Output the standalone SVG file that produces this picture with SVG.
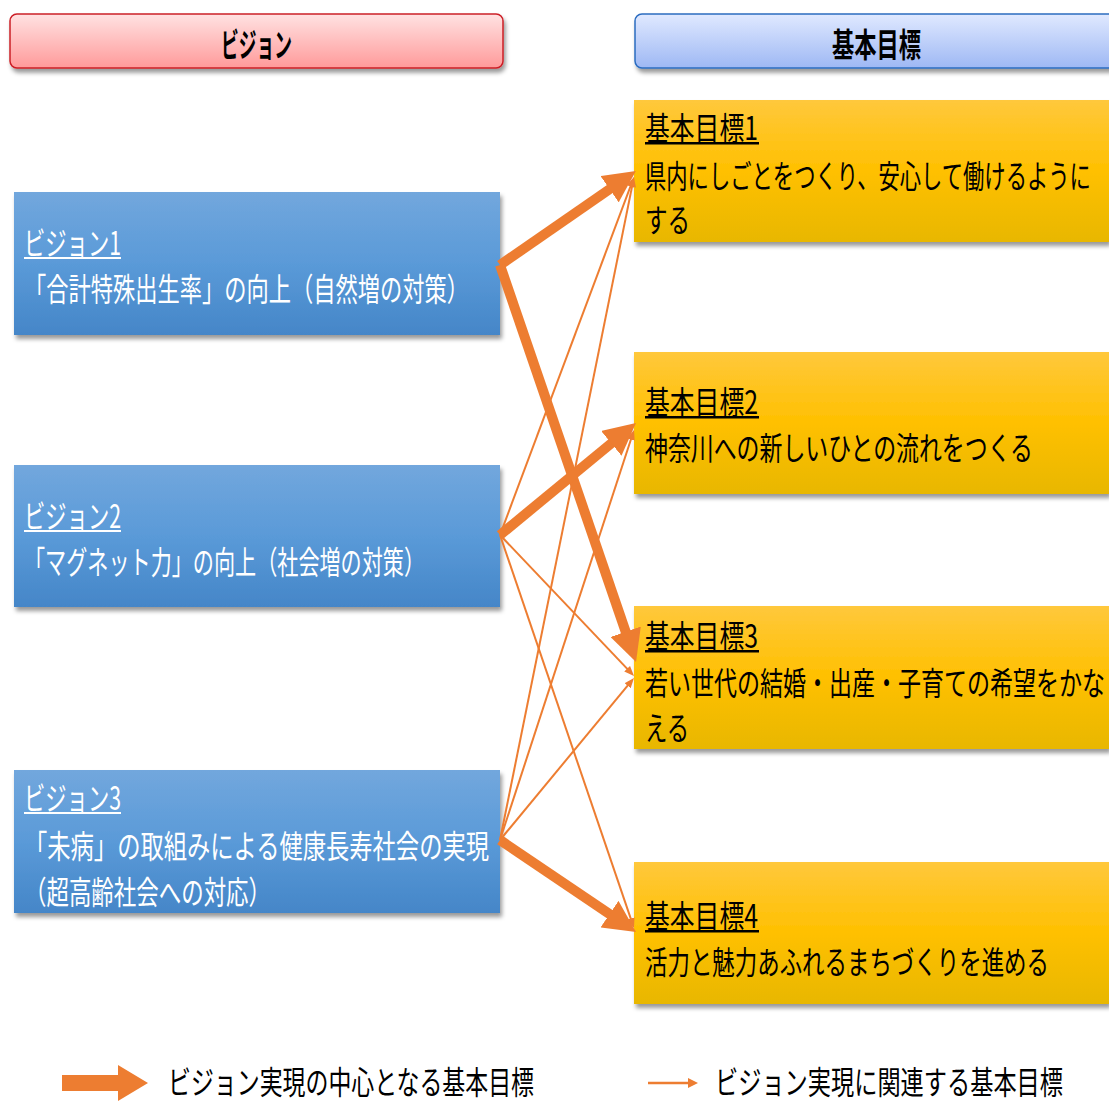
<svg xmlns="http://www.w3.org/2000/svg" width="1109" height="1102" viewBox="0 0 1109 1102">
<style>
.t{font-family:"Noto Sans CJK JP","Noto Sans",sans-serif;font-size:32px}
.h{font-family:"Noto Sans CJK JP","Noto Sans",sans-serif;font-size:33px;font-weight:bold;fill:#000}
.w{fill:#fff}
.k{fill:#000}
.vis{fill:url(#gVis)}
.goal{fill:url(#gGoal)}
.thick{stroke:#ED7D31;stroke-width:10;fill:none;marker-end:url(#mThick)}
.thin{stroke:#ED7D31;stroke-width:2;fill:none;marker-end:url(#mThin)}
</style>
<defs>
<linearGradient id="gPink" x1="0" y1="0" x2="0" y2="1"><stop offset="0" stop-color="#FFE2E2"/><stop offset="1" stop-color="#FF9A9A"/></linearGradient>
<linearGradient id="gBlueH" x1="0" y1="0" x2="0" y2="1"><stop offset="0" stop-color="#E0E9FF"/><stop offset="1" stop-color="#9EB8F4"/></linearGradient>
<linearGradient id="gVis" x1="0" y1="0" x2="0" y2="1"><stop offset="0" stop-color="#72A7DD"/><stop offset="0.5" stop-color="#5A9AD8"/><stop offset="1" stop-color="#4586C8"/></linearGradient>
<linearGradient id="gGoal" x1="0" y1="0" x2="0" y2="1"><stop offset="0" stop-color="#FFC83C"/><stop offset="0.5" stop-color="#FFC000"/><stop offset="1" stop-color="#E8B700"/></linearGradient>
<filter id="sh" x="-5%" y="-10%" width="115%" height="130%"><feDropShadow dx="2" dy="4" stdDeviation="2" flood-color="#000" flood-opacity="0.4"/></filter>
<marker id="mThick" markerUnits="userSpaceOnUse" markerWidth="32" markerHeight="32" viewBox="0 0 32 32" refX="10" refY="16" orient="auto"><path d="M0,0 L32,16 L0,32 z" fill="#ED7D31"/></marker>
<marker id="mThin" markerUnits="userSpaceOnUse" markerWidth="10" markerHeight="8" viewBox="0 0 10 8" refX="3" refY="4" orient="auto"><path d="M0,0 L10,4 L0,8 z" fill="#ED7D31"/></marker>
</defs>
<rect width="1109" height="1102" fill="#fff"/>

<g id="header-vision">
<rect x="10" y="14" width="493" height="54" rx="7" fill="url(#gPink)" stroke="#CC1F26" stroke-width="1.5" filter="url(#sh)"/>
<text class="h" transform="translate(221,57) scale(0.7,1)" textLength="101.4" lengthAdjust="spacingAndGlyphs">ビジョン</text>
</g>
<g id="header-goal">
<rect x="635" y="14" width="500" height="54" rx="7" fill="url(#gBlueH)" stroke="#2B6CC0" stroke-width="1.5" filter="url(#sh)"/>
<text class="h" transform="translate(832,57) scale(0.7,1)" textLength="127.1" lengthAdjust="spacingAndGlyphs">基本目標</text>
</g>

<g id="vision1">
<rect class="vis" x="14" y="192" width="486" height="143" filter="url(#sh)"/>
<text class="t w" transform="translate(24,255) scale(0.7,1)" textLength="138.6" lengthAdjust="spacingAndGlyphs">ビジョン1</text>
<rect x="24" y="257" width="97" height="2" fill="#fff"/>
<text class="t w" transform="translate(24,301) scale(0.7,1)" textLength="635.7" lengthAdjust="spacingAndGlyphs">「合計特殊出生率」の向上（自然増の対策）</text>
</g>
<g id="vision2">
<rect class="vis" x="14" y="465" width="486" height="142" filter="url(#sh)"/>
<text class="t w" transform="translate(24,528) scale(0.7,1)" textLength="138.6" lengthAdjust="spacingAndGlyphs">ビジョン2</text>
<rect x="24" y="530" width="97" height="2" fill="#fff"/>
<text class="t w" transform="translate(24,574) scale(0.7,1)" textLength="572.9" lengthAdjust="spacingAndGlyphs">「マグネット力」の向上（社会増の対策）</text>
</g>
<g id="vision3">
<rect class="vis" x="14" y="770" width="486" height="143" filter="url(#sh)"/>
<text class="t w" transform="translate(24,810) scale(0.7,1)" textLength="138.6" lengthAdjust="spacingAndGlyphs">ビジョン3</text>
<rect x="24" y="812" width="97" height="2" fill="#fff"/>
<text class="t w" transform="translate(24,858) scale(0.7,1)" textLength="664.3" lengthAdjust="spacingAndGlyphs">「未病」の取組みによる健康長寿社会の実現</text>
<text class="t w" transform="translate(24,904) scale(0.7,1)" textLength="352.9" lengthAdjust="spacingAndGlyphs">（超高齢社会への対応）</text>
</g>

<g id="goal1">
<rect class="goal" x="634" y="100" width="475" height="142" filter="url(#sh)"/>
<text class="t k" transform="translate(645,140) scale(0.7,1)" textLength="161.4" lengthAdjust="spacingAndGlyphs">基本目標1</text>
<rect x="645" y="142" width="114" height="2.5" fill="#000"/>
<text class="t k" transform="translate(645,188) scale(0.7,1)" textLength="637" lengthAdjust="spacingAndGlyphs">県内にしごとをつくり、安心して働けるように</text>
<text class="t k" transform="translate(645,232) scale(0.7,1)" textLength="64.3" lengthAdjust="spacingAndGlyphs">する</text>
</g>
<g id="goal2">
<rect class="goal" x="634" y="352" width="475" height="142" filter="url(#sh)"/>
<text class="t k" transform="translate(645,414) scale(0.7,1)" textLength="161.4" lengthAdjust="spacingAndGlyphs">基本目標2</text>
<rect x="645" y="416" width="114" height="2.5" fill="#000"/>
<text class="t k" transform="translate(645,460) scale(0.7,1)" textLength="554.3" lengthAdjust="spacingAndGlyphs">神奈川への新しいひとの流れをつくる</text>
</g>
<g id="goal3">
<rect class="goal" x="634" y="606" width="475" height="143" filter="url(#sh)"/>
<text class="t k" transform="translate(645,648) scale(0.7,1)" textLength="161.4" lengthAdjust="spacingAndGlyphs">基本目標3</text>
<rect x="645" y="650" width="114" height="2.5" fill="#000"/>
<text class="t k" transform="translate(645,695) scale(0.7,1)" textLength="657.1" lengthAdjust="spacingAndGlyphs">若い世代の結婚・出産・子育ての希望をかな</text>
<text class="t k" transform="translate(645,740) scale(0.7,1)" textLength="62.9" lengthAdjust="spacingAndGlyphs">える</text>
</g>
<g id="goal4">
<rect class="goal" x="634" y="862" width="475" height="142" filter="url(#sh)"/>
<text class="t k" transform="translate(645,928) scale(0.7,1)" textLength="161.4" lengthAdjust="spacingAndGlyphs">基本目標4</text>
<rect x="645" y="930" width="114" height="2.5" fill="#000"/>
<text class="t k" transform="translate(645,974) scale(0.7,1)" textLength="577.1" lengthAdjust="spacingAndGlyphs">活力と魅力あふれるまちづくりを進める</text>
</g>

<g id="connectors">
<line class="thin" x1="500" y1="535" x2="631.5" y2="183.6"/>
<line class="thin" x1="500" y1="840" x2="632.6" y2="183.9"/>
<line class="thin" x1="500" y1="840" x2="631.8" y2="436.7"/>
<line class="thin" x1="500" y1="535" x2="629.2" y2="670.9"/>
<line class="thin" x1="500" y1="840" x2="629.5" y2="683.4"/>
<line class="thin" x1="500" y1="535" x2="631.7" y2="921.4"/>
<line class="thick" x1="500" y1="265" x2="617.8" y2="183.5"/>
<line class="thick" x1="500" y1="265" x2="628.9" y2="641.2"/>
<line class="thick" x1="500" y1="535" x2="619.0" y2="437.0"/>
<line class="thick" x1="500" y1="840" x2="617.8" y2="919.7"/>
</g>

<g id="legend">
<path d="M62,1075 L118,1075 L118,1065 L148,1083 L118,1101 L118,1091 L62,1091 z" fill="#ED7D31"/>
<text class="t k" transform="translate(168,1094) scale(0.7,1)" textLength="522.9" lengthAdjust="spacingAndGlyphs">ビジョン実現の中心となる基本目標</text>
<line x1="648" y1="1083" x2="690" y2="1083" stroke="#ED7D31" stroke-width="2.5"/>
<path d="M688,1078 L698,1083 L688,1088 z" fill="#ED7D31"/>
<text class="t k" transform="translate(715,1094) scale(0.7,1)" textLength="497.1" lengthAdjust="spacingAndGlyphs">ビジョン実現に関連する基本目標</text>
</g>
</svg>
